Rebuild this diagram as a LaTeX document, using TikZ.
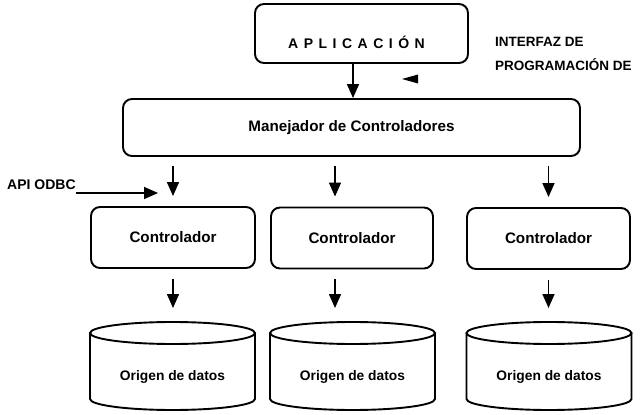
\documentclass[tikz,border=0pt]{standalone}
\usepackage{fontspec}
\setmainfont{Liberation Sans}
\usetikzlibrary{arrows.meta}
\newcommand\mycyl[2]{%
  \draw[cylline] ({#1-82.5},333) -- ({#1-82.5},399) arc[start angle=180,end angle=360,x radius=82.5pt,y radius=11pt] -- ({#1+82.5},333);
  \draw[cylline] (#1,333) ellipse [x radius=82.5pt, y radius=11pt];
  \coordinate (#2) at (#1,322);
  \node[cyltext] (#2txt) at (#1,377) {Origen de datos};
}
\begin{document}
\begin{tikzpicture}[x=1pt,y=-1pt,
  box/.style={draw, line width=1.9pt, rounded corners=9pt, inner sep=0pt, font=\bfseries\fontsize{15.2}{18}\selectfont},
  arr/.style={line width=1.6pt, -{Triangle[length=14pt,width=12pt]}},
  cylline/.style={line width=1.9pt},
  cyltext/.style={inner sep=0pt, font=\bfseries\fontsize{13.8}{16}\selectfont},
  lbl/.style={inner sep=0pt, font=\bfseries\fontsize{13.5}{16}\selectfont}]
\useasboundingbox (0,0) rectangle (641,415);

% Aplicacion
\node[box, minimum width=213pt, minimum height=59pt] (app) at (361.5,33.5) {};
\node[lbl, font=\bfseries\fontsize{14}{16}\selectfont] (apptxt) at (356.5,42)
  {A\hspace{5.5pt}P\hspace{5.5pt}L\hspace{5.5pt}I\hspace{5.5pt}C\hspace{5.5pt}A\hspace{5.5pt}C\hspace{5.5pt}I\hspace{5.5pt}Ó\hspace{5.5pt}N};

\node[lbl, anchor=west] (if1) at (495,42) {INTERFAZ DE};
\node[lbl, anchor=west] (if2) at (495,65) {PROGRAMACIÓN DE};
\fill (418,74.5) -- (402,79) -- (418,83.5) -- cycle;

% Manejador
\node[box, minimum width=457pt, minimum height=57pt] (mgr) at (351.5,127.5) {Manejador de Controladores};
\draw[arr] ([xshift=-8.5pt]app.south) -- ([xshift=-8.5pt]app.south |- mgr.north);

% Controladores
\node[box, minimum width=164pt, minimum height=61pt] (c1) at (173,237.5) {Controlador};
\node[box, minimum width=162pt, minimum height=61pt] (c2) at (352,238) {Controlador};
\node[box, minimum width=163pt, minimum height=61pt] (c3) at (548.5,238.5) {Controlador};

\draw[arr, shorten <=9pt, shorten >=10pt] (c1.north |- mgr.south) -- (c1.north);
\draw[arr, shorten <=9pt, shorten >=10pt] ([xshift=-17pt]c2.north |- mgr.south) -- ([xshift=-17pt]c2.north);
\draw[arr, shorten <=9pt, shorten >=10pt] (c3.north |- mgr.south) -- (c3.north);

% API ODBC
\node[lbl, font=\bfseries\fontsize{14}{16}\selectfont, anchor=west] (api) at (7,185) {API ODBC};
\coordinate (apitip) at (158,193);
\draw[arr] (api.east |- apitip) -- (apitip);

% Origenes de datos
\mycyl{172.5}{cy1}
\mycyl{352.5}{cy2}
\mycyl{549}{cy3}

\draw[arr, shorten <=10pt, shorten >=14pt] (c1.south) -- (c1.south |- cy1);
\draw[arr, shorten <=10pt, shorten >=14pt] ([xshift=-17pt]c2.south) -- ([xshift=-17pt]c2.south |- cy2);
\draw[arr, shorten <=10pt, shorten >=14pt] (c3.south) -- (c3.south |- cy3);
\end{tikzpicture}
\end{document}
